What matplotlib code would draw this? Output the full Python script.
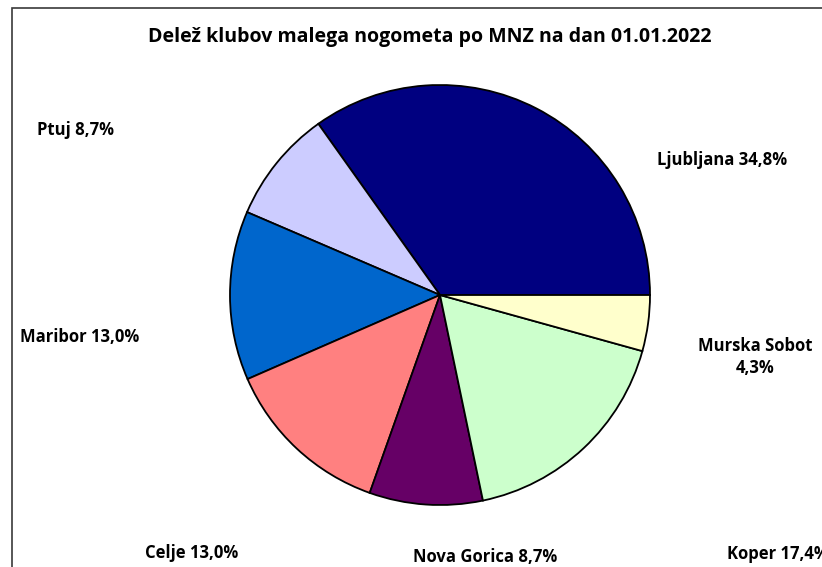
import matplotlib.pyplot as plt
from matplotlib.patches import Rectangle

# ── Podatki ────────────────────────────────────────────────────────────────
regije = ["Ljubljana", "Ptuj", "Maribor", "Celje", "Nova Gorica", "Koper", "Murska Sobota"]
delezi = [34.8, 8.7, 13.0, 13.0, 8.7, 17.4, 4.3]
barve = ["#000080", "#CCCCFF", "#0066CC", "#FF8080", "#660066", "#CCFFCC", "#FFFFCC"]
oznake = ["Ljubljana 34,8%", "Ptuj 8,7%", "Maribor 13,0%", "Celje 13,0%",
          "Nova Gorica 8,7%", "Koper 17,4%", "Murska Sobot\n4,3%"]
naslov = "Delež klubov malega nogometa po MNZ na dan 01.01.2022"

# položaji oznak v pikslih (x, y od zgoraj), kot v Excelu
polozaji = [(722, 160), (75, 130), (80, 337), (192, 553),
            (485, 557), (778, 554), (755, 357)]

W, H = 822, 567
plt.rcParams["font.family"] = ["Open Sans", "DejaVu Sans"]

fig = plt.figure(figsize=(W / 100, H / 100), dpi=100, facecolor="white")
ax = fig.add_axes([0, 0, 1, 1])
ax.set_xlim(0, W)
ax.set_ylim(0, H)
ax.axis("off")

# okvir grafikona
ax.add_patch(Rectangle((12, -20), W + 40, H - 8 + 20, fill=False,
                       edgecolor="#3a3a3a", linewidth=1.2))

ax.pie(delezi, colors=barve, startangle=0, counterclock=True,
       center=(440, H - 295), radius=210,
       wedgeprops=dict(edgecolor="black", linewidth=1.3))
ax.set_xlim(0, W)
ax.set_ylim(0, H)
ax.set_aspect("auto")

for txt, (x, y) in zip(oznake, polozaji):
    ax.text(x, H - y, txt, ha="center", va="center", fontsize=12,
            fontweight="bold", color="black", linespacing=1.3)

ax.text(430, H - 37, naslov, ha="center", va="center", fontsize=14,
        fontweight="bold", color="black")

fig.savefig("out.png", dpi=100, facecolor="white")
